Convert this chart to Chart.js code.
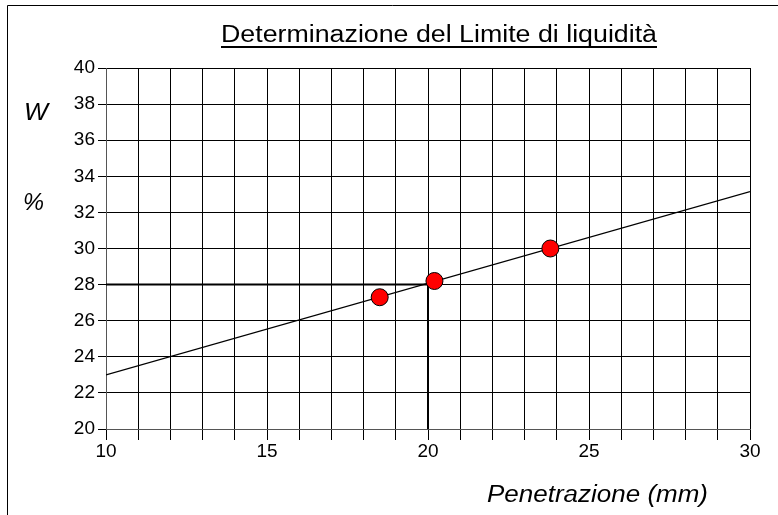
<!DOCTYPE html>
<html>
<head>
<meta charset="utf-8">
<script src="https://cdn.jsdelivr.net/npm/chart.js"></script>
<style>
  html, body { margin: 0; padding: 0; background: #fff; }
  canvas { display: block; }
</style>
</head>
<body>
<canvas id="chart" width="778" height="515"></canvas>
<script>
// measured points
const measX = [18.5, 20.2, 23.8];
const measY = [27.3, 28.2, 30.0];

// regression line ends
const trendX = [10, 30];
const trendY = [23.0, 33.15];

// limit reading at 28 %
const limitX = [10, 20, 20];
const limitY = [28, 28, 20];

const titleText = 'Determinazione del Limite di liquidità';
const xTitleText = 'Penetrazione (mm)';
const yTitleTop = 'W';
const yTitleBottom = '%';

const FONT = '"Liberation Sans", Arial, Helvetica, sans-serif';
Chart.defaults.font.family = FONT;
Chart.defaults.color = '#000';

function toPoints(xs, ys) {
    return xs.map((x, i) => ({ x: x, y: ys[i] }));
}

// text in the reference is a little wider than the font, so stretch it
function drawStretched(ctx, text, left, baseline, font, width) {
    ctx.save();
    ctx.font = font;
    ctx.textAlign = 'left';
    ctx.textBaseline = 'alphabetic';
    const w = ctx.measureText(text).width;
    ctx.translate(left, baseline);
    ctx.scale(width / w, 1);
    ctx.fillText(text, 0, 0);
    ctx.restore();
}

const decorations = {
    id: 'decorations',
    beforeDraw(chart) {
        const ctx = chart.ctx;
        ctx.save();
        ctx.fillStyle = '#fff';
        ctx.fillRect(0, 0, chart.width, chart.height);
        ctx.restore();
    },
    afterDraw(chart) {
        const ctx = chart.ctx;
        ctx.save();
        // frame
        ctx.strokeStyle = '#000';
        ctx.lineWidth = 1;
        ctx.beginPath();
        ctx.moveTo(7.5, chart.height);
        ctx.lineTo(7.5, 5.5);
        ctx.lineTo(chart.width, 5.5);
        ctx.stroke();

        ctx.fillStyle = '#000';
        drawStretched(ctx, titleText, 221, 42, '23px ' + FONT, 436);
        ctx.fillRect(221, 46, 436, 2);

        drawStretched(ctx, xTitleText, 487, 502, 'italic 23px ' + FONT, 221);
        drawStretched(ctx, yTitleTop, 24, 120, 'italic 23px ' + FONT, 24);
        drawStretched(ctx, yTitleBottom, 23, 210, 'italic 23px ' + FONT, 21);
        ctx.restore();
    }
};

new Chart(document.getElementById('chart').getContext('2d'), {
    type: 'scatter',
    data: {
        datasets: [
            {
                label: 'Misure',
                data: toPoints(measX, measY),
                backgroundColor: '#ff0000',
                borderColor: '#000',
                borderWidth: 1,
                pointRadius: 8.5,
                showLine: false
            },
            {
                label: 'Retta',
                data: toPoints(trendX, trendY),
                borderColor: '#000',
                borderWidth: 1.3,
                pointRadius: 0,
                showLine: true
            },
            {
                label: 'Limite',
                data: toPoints(limitX, limitY),
                borderColor: '#000',
                borderWidth: 2,
                pointRadius: 0,
                showLine: true
            }
        ]
    },
    options: {
        responsive: false,
        animation: false,
        layout: { padding: { top: 68, right: 28, bottom: 0, left: 0 } },
        plugins: {
            legend: { display: false },
            title: { display: false },
            tooltip: { enabled: false }
        },
        scales: {
            x: {
                type: 'linear',
                min: 10,
                max: 30,
                afterFit(scale) { scale.height = 86; },
                ticks: {
                    stepSize: 1,
                    autoSkip: false,
                    maxRotation: 0,
                    padding: 0,
                    font: { size: 19 },
                    callback: v => (v % 5 === 0 ? v : '')
                },
                grid: { color: '#000', lineWidth: 1, tickLength: 11, tickColor: '#000' },
                border: { color: '#555', width: 1 }
            },
            y: {
                min: 20,
                max: 40,
                afterFit(scale) { scale.width = 106; },
                ticks: {
                    stepSize: 2,
                    padding: 3,
                    font: { size: 19 }
                },
                grid: { color: '#000', lineWidth: 1, tickLength: 8, tickColor: '#000' },
                border: { color: '#555', width: 1 }
            }
        }
    },
    plugins: [decorations]
});
</script>
</body>
</html>
